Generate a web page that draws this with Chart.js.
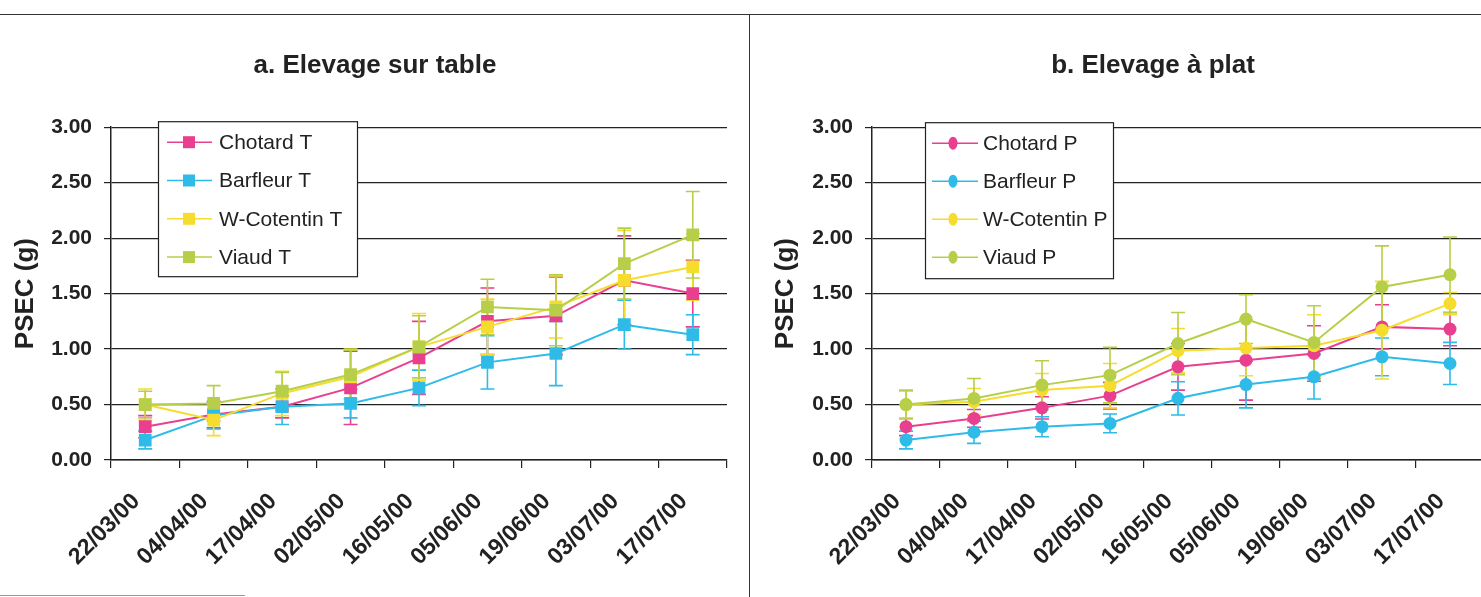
<!DOCTYPE html>
<html>
<head>
<meta charset="utf-8">
<script src="https://cdn.jsdelivr.net/npm/chart.js@4/dist/chart.umd.min.js"></script>
<style>
  html, body { margin: 0; padding: 0; background: #fff; overflow: hidden; }
  body { width: 1481px; height: 597px; position: relative; }
  #wrapA { position: absolute; left: 0; top: 0; }
  #wrapB { position: absolute; left: 750px; top: 0; }
  .hline { position: absolute; left: 0; top: 14px; width: 1481px; height: 1px; background: #333; }
  .vline { position: absolute; left: 749px; top: 14px; width: 1px; height: 583px; background: #333; }
  .bline { position: absolute; left: 0; top: 595px; width: 245px; height: 1px; background: #999; }
</style>
</head>
<body>
<div id="wrapA"><canvas id="chartA" width="750" height="597"></canvas></div>
<div id="wrapB"><canvas id="chartB" width="806" height="597"></canvas></div>
<div class="hline"></div>
<div class="vline"></div>
<div class="bline"></div>
<script>
// sampling dates
const dates = ['22/03/00', '04/04/00', '17/04/00', '02/05/00', '16/05/00', '05/06/00', '19/06/00', '03/07/00', '17/07/00'];
const yTicks = [0, 0.5, 1, 1.5, 2, 2.5, 3];

// a. table rearing (values + error)
const chotardT = [0.30, 0.41, 0.48, 0.65, 0.92, 1.25, 1.30, 1.62, 1.50];
const chotardTErr = [0.10, 0.12, 0.10, 0.33, 0.33, 0.30, 0.35, 0.40, 0.30];
const barfleurT = [0.18, 0.40, 0.48, 0.51, 0.65, 0.88, 0.96, 1.22, 1.13];
const barfleurTErr = [0.08, 0.12, 0.16, 0.13, 0.16, 0.24, 0.29, 0.22, 0.18];
const cotentinT = [0.50, 0.36, 0.60, 0.75, 1.02, 1.20, 1.38, 1.62, 1.74];
const cotentinTErr = [0.14, 0.14, 0.20, 0.25, 0.30, 0.25, 0.28, 0.45, 0.30];
const viaudT = [0.50, 0.51, 0.62, 0.77, 1.02, 1.38, 1.35, 1.77, 2.03];
const viaudTErr = [0.12, 0.16, 0.17, 0.22, 0.28, 0.25, 0.32, 0.32, 0.39];

// b. flat rearing
const chotardP = [0.30, 0.375, 0.47, 0.58, 0.84, 0.90, 0.96, 1.20, 1.18];
const chotardPErr = [0.08, 0.08, 0.10, 0.12, 0.21, 0.36, 0.25, 0.20, 0.15];
const barfleurP = [0.18, 0.25, 0.30, 0.33, 0.556, 0.68, 0.75, 0.93, 0.87];
const barfleurPErr = [0.08, 0.10, 0.09, 0.085, 0.15, 0.21, 0.20, 0.17, 0.19];
const cotentinP = [0.50, 0.525, 0.63, 0.67, 0.985, 1.01, 1.03, 1.17, 1.41];
const cotentinPErr = [0.12, 0.12, 0.15, 0.20, 0.20, 0.25, 0.28, 0.44, 0.10];
const viaudP = [0.50, 0.555, 0.675, 0.765, 1.05, 1.27, 1.06, 1.56, 1.67];
const viaudPErr = [0.13, 0.18, 0.22, 0.25, 0.28, 0.22, 0.33, 0.37, 0.34];

const PINK = '#e8408f', BLUE = '#2ebbe8', YELLOW = '#f5dc2e', GREEN = '#b7cf48';
const FONT = "'Liberation Sans', Arial, sans-serif";

// error bars drawn through the y scale
const errorBars = {
  id: 'errorBars',
  beforeDatasetsDraw(chart) {
    const ctx = chart.ctx, y = chart.scales.y;
    ctx.save();
    chart.data.datasets.forEach((ds, i) => {
      const meta = chart.getDatasetMeta(i);
      ctx.strokeStyle = ds.borderColor;
      ctx.lineWidth = 1.6;
      meta.data.forEach((pt, j) => {
        const v = ds.data[j], e = ds.err[j];
        const top = y.getPixelForValue(v + e), bot = y.getPixelForValue(v - e);
        ctx.beginPath();
        ctx.moveTo(pt.x, top); ctx.lineTo(pt.x, bot);
        ctx.moveTo(pt.x - 7, top); ctx.lineTo(pt.x + 7, top);
        ctx.moveTo(pt.x - 7, bot); ctx.lineTo(pt.x + 7, bot);
        ctx.stroke();
      });
    });
    ctx.restore();
  }
};

// boxed legend inside the plot
const boxLegend = {
  id: 'boxLegend',
  afterDraw(chart, args, o) {
    const ctx = chart.ctx, a = chart.chartArea;
    const x = a.left + o.dx, y = a.top + o.dy;
    ctx.save();
    ctx.fillStyle = '#fff';
    ctx.fillRect(x, y, o.w, o.h);
    ctx.strokeStyle = '#222';
    ctx.lineWidth = 1.2;
    ctx.strokeRect(x + 0.5, y + 0.5, o.w, o.h);
    ctx.font = '21px ' + FONT;
    ctx.textBaseline = 'middle';
    chart.data.datasets.forEach((ds, i) => {
      const cy = y + o.rowTop + i * o.rowGap;
      ctx.strokeStyle = ds.borderColor;
      ctx.lineWidth = 1.5;
      ctx.beginPath();
      ctx.moveTo(x + o.lineL, cy); ctx.lineTo(x + o.lineR, cy);
      ctx.stroke();
      ctx.fillStyle = ds.borderColor;
      const mx = x + o.mark;
      if (ds.pointStyle === 'rect') {
        ctx.fillRect(mx - 6, cy - 6, 12, 12);
      } else {
        ctx.beginPath();
        ctx.ellipse(mx, cy, 4.5, 6.5, 0, 0, Math.PI * 2);
        ctx.fill();
      }
      ctx.fillStyle = '#222';
      ctx.fillText(ds.label, x + o.text, cy + 1);
    });
    ctx.restore();
  }
};

function makeSeries(labels, values, errs, style, radius) {
  const colors = [PINK, BLUE, YELLOW, GREEN];
  return values.map((vals, i) => ({
    label: labels[i],
    data: vals,
    err: errs[i],
    borderColor: colors[i],
    backgroundColor: colors[i],
    borderWidth: 2,
    pointStyle: style,
    pointRadius: radius,
    pointBorderWidth: 0,
    tension: 0,
    order: 3 - i
  }));
}

function makeChart(id, title, datasets, yLeft, yTitlePad, rightPad, legend) {
  return new Chart(document.getElementById(id), {
    type: 'line',
    data: { labels: dates, datasets: datasets },
    plugins: [errorBars, boxLegend],
    options: {
      responsive: false,
      animation: false,
      devicePixelRatio: 1,
      layout: { padding: 0 },
      plugins: {
        legend: { display: false },
        tooltip: { enabled: false },
        title: {
          display: true,
          text: title,
          color: '#222',
          font: { family: FONT, size: 26, weight: 'bold' },
          padding: { top: 50, bottom: 46 }
        },
        boxLegend: legend
      },
      scales: {
        x: {
          offset: true,
          afterFit: s => { s.height = 137; },
          grid: { offset: true, drawOnChartArea: false, drawTicks: true, tickLength: 8, color: '#222', lineWidth: 1.2 },
          border: { display: true, color: '#222', width: 1.5 },
          ticks: {
            autoSkip: false, minRotation: 45, maxRotation: 45, padding: 20, labelOffset: -9,
            color: '#222', font: { family: FONT, size: 23, weight: 'bold' }
          }
        },
        y: {
          min: 0, max: 3,
          afterFit: s => { s.width = yLeft; },
          afterBuildTicks: s => { s.ticks = yTicks.map(v => ({ value: v })); },
          grid: { color: '#222', lineWidth: 1.2, drawTicks: true, tickLength: 7 },
          border: { display: true, color: '#222', width: 1.5 },
          ticks: {
            padding: 12, color: '#222',
            font: { family: FONT, size: 21, weight: 'bold' },
            callback: v => v.toFixed(2)
          },
          title: {
            display: true, text: 'PSEC (g)', color: '#222',
            font: { family: FONT, size: 26, weight: 'bold' },
            padding: { top: yTitlePad, bottom: 0 }
          }
        },
        // empty right-side spacer so the title stays centred on the whole canvas
        spacer: {
          position: 'right',
          afterFit: s => { s.width = rightPad; },
          grid: { display: false },
          border: { display: false },
          ticks: { display: false }
        }
      }
    }
  });
}

makeChart('chartA', 'a. Elevage sur table',
  makeSeries(['Chotard T', 'Barfleur T', 'W-Cotentin T', 'Viaud T'],
    [chotardT, barfleurT, cotentinT, viaudT],
    [chotardTErr, barfleurTErr, cotentinTErr, viaudTErr], 'rect', 9),
  111, 10, 23,
  { dx: 47, dy: -6, w: 199, h: 155, rowTop: 21, rowGap: 38.3, lineL: 9, lineR: 54, mark: 31, text: 61 });

makeChart('chartB', 'b. Elevage à plat',
  makeSeries(['Chotard P', 'Barfleur P', 'W-Cotentin P', 'Viaud P'],
    [chotardP, barfleurP, cotentinP, viaudP],
    [chotardPErr, barfleurPErr, cotentinPErr, viaudPErr], 'circle', 6.5),
  122, 20, 72,
  { dx: 53, dy: -5, w: 188, h: 156, rowTop: 21, rowGap: 38, lineL: 7, lineR: 53, mark: 28, text: 58 });
</script>
</body>
</html>
